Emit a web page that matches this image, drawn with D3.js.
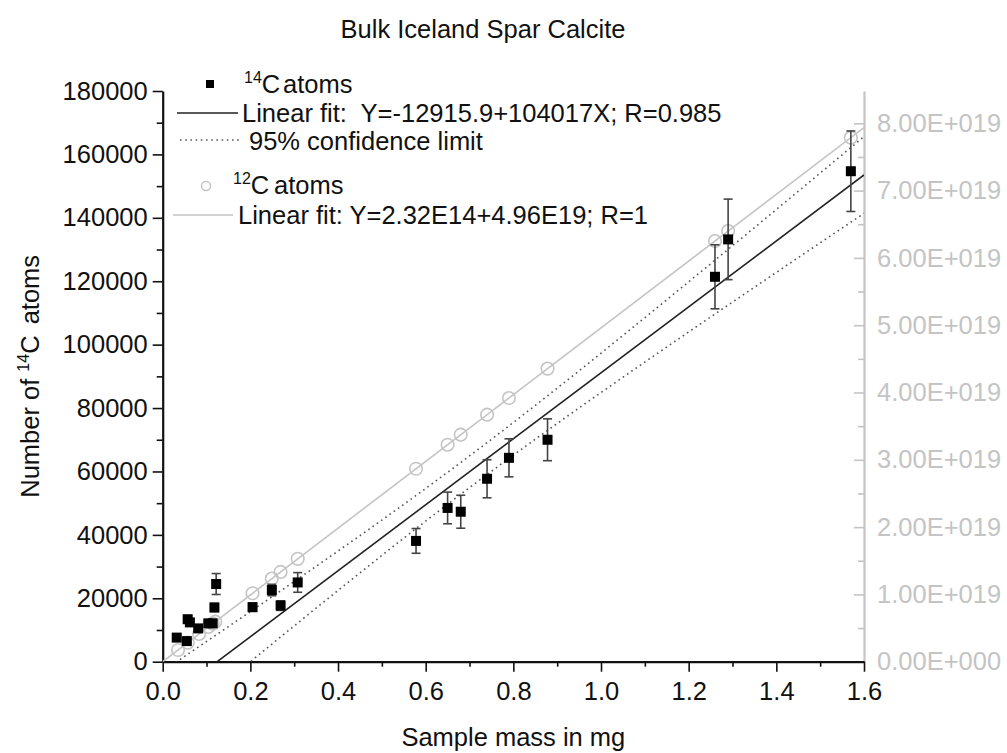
<!DOCTYPE html>
<html>
<head>
<meta charset="utf-8">
<script src="https://cdn.jsdelivr.net/npm/d3@7"></script>
<style>
  html, body { margin: 0; padding: 0; background: #fff; }
  svg { display: block; font-family: "Liberation Sans", Arial, sans-serif; }
</style>
</head>
<body>
<svg id="chart" width="1007" height="753"></svg>
<script>
// ---------- DATA ----------
const massC14 = [0.032, 0.055, 0.057, 0.062, 0.081, 0.104, 0.114, 0.118, 0.122, 0.205, 0.249, 0.269, 0.308, 0.578, 0.650, 0.680, 0.740, 0.790, 0.878, 1.260, 1.290, 1.570];
const atomsC14 = [7600, 6500, 13400, 12400, 10500, 12100, 12100, 17100, 24500, 17200, 22600, 17700, 25000, 38100, 48500, 47300, 57700, 64300, 70000, 121400, 133200, 154700];
const errC14 = [600, 500, 1000, 1000, 800, 900, 900, 1300, 3300, 1300, 1800, 1500, 3100, 3900, 5000, 5200, 6000, 6000, 6600, 10100, 12700, 12700];

const massC12 = [0.035, 0.057, 0.083, 0.104, 0.114, 0.120, 0.205, 0.249, 0.269, 0.308, 0.578, 0.650, 0.680, 0.740, 0.790, 0.878, 1.260, 1.290, 1.570];
const atomsC12 = [1.74e18, 2.83e18, 4.12e18, 5.16e18, 5.66e18, 5.95e18, 1.017e19, 1.235e19, 1.334e19, 1.528e19, 2.867e19, 3.224e19, 3.373e19, 3.67e19, 3.918e19, 4.355e19, 6.25e19, 6.398e19, 7.787e19];

// Linear fits (from legend)
const fitC14 = { intercept: -12915.9, slope: 104017 };
const fitC12 = { intercept: 2.32e14, slope: 4.96e19 };
const fitRange = [0, 1.6];

// 95% confidence limits
const confX =     [0.0,    0.05,   0.1,    0.2,   0.3,   0.4,   0.5,   0.6,   0.7,   0.8,   0.9,   1.0,   1.1,    1.2,    1.3,    1.4,    1.5,    1.6];
const confUpper = [-2990,  1690,   6380,   15800, 25290, 34900, 44660, 54640, 64900, 75450, 86270, 97310, 108500, 119810, 131190, 142630, 154110, 165620];
const confLower = [-22840, -17120, -11400, -20,   11290, 22490, 33530, 44350, 54900, 65150, 75130, 84900, 94500,  104000, 113420, 122780, 132110, 141410];

// Axes ticks
const xTicks = [0, 0.2, 0.4, 0.6, 0.8, 1.0, 1.2, 1.4, 1.6];
const xMinor = [0.1, 0.3, 0.5, 0.7, 0.9, 1.1, 1.3, 1.5];
const yLeftTicks = [0, 20000, 40000, 60000, 80000, 100000, 120000, 140000, 160000, 180000];
const yLeftMinor = [10000, 30000, 50000, 70000, 90000, 110000, 130000, 150000, 170000];
const yRightTicks = [0, 1e19, 2e19, 3e19, 4e19, 5e19, 6e19, 7e19, 8e19];
const yRightLabels = ["0.00E+000", "1.00E+019", "2.00E+019", "3.00E+019", "4.00E+019", "5.00E+019", "6.00E+019", "7.00E+019", "8.00E+019"];
const yRightMinor = [0.5e19, 1.5e19, 2.5e19, 3.5e19, 4.5e19, 5.5e19, 6.5e19, 7.5e19];

// ---------- LAYOUT ----------
const L = 162.7, R = 864, T = 91, B = 661.7;
const FS = 25.5, SUP = 16;
const grayC = "#c4c4c4";
const FF = "Liberation Sans, Arial, sans-serif";

const svg = d3.select("#chart");
const x = d3.scaleLinear().domain([0, 1.6]).range([L, R]);
const yL = d3.scaleLinear().domain([0, 180000]).range([B, T]);
const yR = d3.scaleLinear().domain([0, 8.48e19]).range([B, T]);

svg.append("defs").append("clipPath").attr("id", "clip")
  .append("rect").attr("x", L).attr("y", T).attr("width", R - L).attr("height", B - T);

// ---------- AXES ----------
const rAx = svg.append("g").attr("transform", `translate(${R},0)`)
  .call(d3.axisRight(yR).tickValues(yRightTicks).tickSizeInner(-10).tickSizeOuter(0).tickPadding(13)
    .tickFormat((d, i) => yRightLabels[i]));
rAx.select(".domain").attr("stroke", grayC).attr("stroke-width", 2.2);
rAx.selectAll(".tick line").attr("stroke", grayC).attr("stroke-width", 1.6);
rAx.selectAll("text").attr("fill", grayC).attr("font-size", FS).attr("font-family", FF);
svg.append("g").attr("transform", `translate(${R},0)`)
  .call(d3.axisRight(yR).tickValues(yRightMinor).tickSizeInner(-6).tickSizeOuter(0).tickFormat(""))
  .call(g => g.select(".domain").remove())
  .selectAll(".tick line").attr("stroke", grayC).attr("stroke-width", 1.6);

const lAx = svg.append("g").attr("transform", `translate(${L},0)`)
  .call(d3.axisLeft(yL).tickValues(yLeftTicks).tickSize(10).tickSizeOuter(0).tickPadding(5).tickFormat(d3.format("d")));
lAx.select(".domain").attr("stroke", "#111").attr("stroke-width", 2.2);
lAx.selectAll(".tick line").attr("stroke", "#111").attr("stroke-width", 1.6);
lAx.selectAll("text").attr("fill", "#111").attr("font-size", FS).attr("font-family", FF);
svg.append("g").attr("transform", `translate(${L},0)`)
  .call(d3.axisLeft(yL).tickValues(yLeftMinor).tickSize(6).tickFormat(""))
  .call(g => g.select(".domain").remove())
  .selectAll(".tick line").attr("stroke", "#111").attr("stroke-width", 1.6);

const bAx = svg.append("g").attr("transform", `translate(0,${B})`)
  .call(d3.axisBottom(x).tickValues(xTicks).tickSize(10).tickSizeOuter(0).tickFormat(d3.format(".1f")));
bAx.select(".domain").attr("stroke", "#111").attr("stroke-width", 2.2);
bAx.selectAll(".tick line").attr("stroke", "#111").attr("stroke-width", 1.6);
bAx.selectAll("text").attr("fill", "#111").attr("font-size", FS).attr("font-family", FF)
  .attr("dy", null).attr("y", 38);
svg.append("g").attr("transform", `translate(0,${B})`)
  .call(d3.axisBottom(x).tickValues(xMinor).tickSize(5).tickFormat(""))
  .call(g => g.select(".domain").remove())
  .selectAll(".tick line").attr("stroke", "#111").attr("stroke-width", 1.6);

// ---------- LINES ----------
const plot = svg.append("g").attr("clip-path", "url(#clip)");

plot.append("path")
  .datum(fitRange)
  .attr("fill", "none").attr("stroke", grayC).attr("stroke-width", 1.6)
  .attr("d", d3.line().x(d => x(d)).y(d => yR(fitC12.intercept + fitC12.slope * d)));

const confLine = d3.line().curve(d3.curveMonotoneX).x((d, i) => x(confX[i])).y(d => yL(d));
[confUpper, confLower].forEach(arr => {
  plot.append("path").datum(arr)
    .attr("fill", "none").attr("stroke", "#555").attr("stroke-width", 1.6)
    .attr("stroke-dasharray", "1.6 3.6")
    .attr("d", confLine);
});

plot.append("path")
  .datum(fitRange)
  .attr("fill", "none").attr("stroke", "#222").attr("stroke-width", 1.6)
  .attr("d", d3.line().x(d => x(d)).y(d => yL(fitC14.intercept + fitC14.slope * d)));

svg.append("g").selectAll("circle")
  .data(massC12.map((m, i) => [m, atomsC12[i]]))
  .join("circle")
  .attr("cx", d => x(d[0])).attr("cy", d => yR(d[1])).attr("r", 6.3)
  .attr("fill", "none").attr("stroke", grayC).attr("stroke-width", 1.6);

const eb = svg.append("g").attr("stroke", "#444").attr("stroke-width", 1.6);
massC14.forEach((m, i) => {
  const cx = x(m), y1 = yL(atomsC14[i] - errC14[i]), y2 = yL(atomsC14[i] + errC14[i]);
  eb.append("line").attr("x1", cx).attr("x2", cx).attr("y1", y1).attr("y2", y2);
  eb.append("line").attr("x1", cx - 4.5).attr("x2", cx + 4.5).attr("y1", y1).attr("y2", y1);
  eb.append("line").attr("x1", cx - 4.5).attr("x2", cx + 4.5).attr("y1", y2).attr("y2", y2);
});

const sq = 10;
svg.append("g").selectAll("rect")
  .data(massC14.map((m, i) => [m, atomsC14[i]]))
  .join("rect")
  .attr("x", d => x(d[0]) - sq / 2).attr("y", d => yL(d[1]) - sq / 2)
  .attr("width", sq).attr("height", sq).attr("fill", "#000");

// ---------- TEXT ----------
svg.append("text").attr("x", 483).attr("y", 38).attr("text-anchor", "middle")
  .attr("font-size", FS).attr("fill", "#111").text("Bulk Iceland Spar Calcite");

svg.append("text").attr("x", (L + R) / 2).attr("y", 746).attr("text-anchor", "middle")
  .attr("font-size", FS).attr("fill", "#111").text("Sample mass in mg");

const yt = svg.append("text").attr("transform", `translate(39,${(T + B) / 2}) rotate(-90)`)
  .attr("text-anchor", "middle").attr("font-size", FS).attr("fill", "#111");
yt.append("tspan").text("Number of ");
yt.append("tspan").attr("font-size", SUP).attr("dy", -10).text("14");
yt.append("tspan").attr("dy", 10).text("C");
yt.append("tspan").attr("dx", 4).text(" atoms");

// ---------- LEGEND ----------
const lg = svg.append("g").attr("font-size", FS).attr("fill", "#111");
lg.append("rect").attr("x", 206).attr("y", 80).attr("width", 8).attr("height", 8).attr("fill", "#000");
const t1 = lg.append("text").attr("x", 244).attr("y", 93);
t1.append("tspan").attr("font-size", SUP).attr("dy", -10).text("14");
t1.append("tspan").attr("dy", 10).text("C");
lg.append("text").attr("x", 283).attr("y", 93).text("atoms");

lg.append("line").attr("x1", 177).attr("x2", 238).attr("y1", 113).attr("y2", 113).attr("stroke", "#222").attr("stroke-width", 1.6);
lg.append("text").attr("x", 242).attr("y", 122).attr("xml:space", "preserve").text("Linear fit:  Y=-12915.9+104017X; R=0.985");

lg.append("line").attr("x1", 180).attr("x2", 240).attr("y1", 140).attr("y2", 140).attr("stroke", "#555").attr("stroke-width", 1.6).attr("stroke-dasharray", "1.6 3.6");
lg.append("text").attr("x", 249).attr("y", 150).text("95% confidence limit");

lg.append("circle").attr("cx", 206).attr("cy", 186).attr("r", 4.5).attr("fill", "none").attr("stroke", grayC).attr("stroke-width", 1.4);
const t4 = lg.append("text").attr("x", 233).attr("y", 194);
t4.append("tspan").attr("font-size", SUP).attr("dy", -10).text("12");
t4.append("tspan").attr("dy", 10).text("C");
lg.append("text").attr("x", 274).attr("y", 194).text("atoms");

lg.append("line").attr("x1", 173).attr("x2", 233).attr("y1", 215).attr("y2", 215).attr("stroke", grayC).attr("stroke-width", 1.6);
lg.append("text").attr("x", 238).attr("y", 224).text("Linear fit: Y=2.32E14+4.96E19; R=1");
</script>
</body>
</html>
